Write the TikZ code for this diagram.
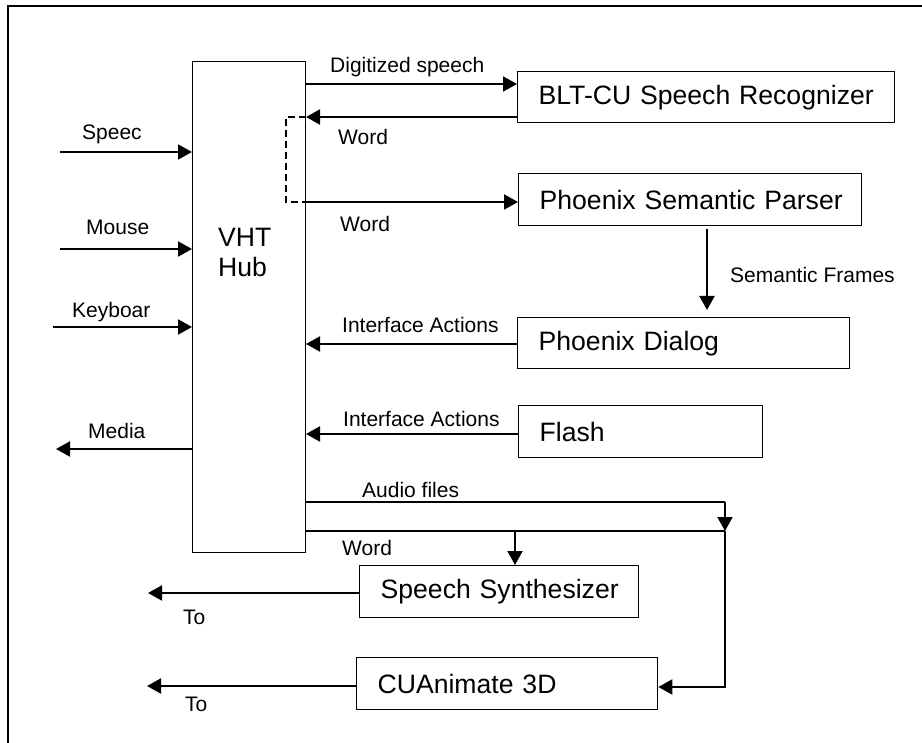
\documentclass[tikz,border=0pt]{standalone}
\usepackage{fontspec}
\setmainfont{Liberation Sans}
\usetikzlibrary{arrows.meta}
\begin{document}
\begin{tikzpicture}[x=1pt,y=-1pt,
  box/.style={draw,line width=1.3pt,rectangle,inner xsep=21pt,inner ysep=0pt,align=left,
    font=\fontsize{26.6}{30}\selectfont,anchor=north west},
  lbl/.style={font=\fontsize{21}{25}\selectfont,anchor=base west,inner sep=0pt},
  arr/.style={line width=2pt,-{Triangle[length=14pt,width=15pt]}},
  ln/.style={line width=1.3pt}]
\useasboundingbox (0,0) rectangle (922,743);
% frame
\draw[line width=2pt] (930,6) -- (8,6) -- (8,750);
% hub
\node[draw,line width=1pt,rectangle,anchor=north west,minimum width=113pt,minimum height=491pt,inner sep=0pt] (hub) at (192,61) {};
\node[font=\fontsize{26.6}{30}\selectfont,align=left,anchor=north west,inner sep=0pt] (hubtxt) at (218,228) {VHT\\Hub};
% boxes
\node[box,text width=335pt,minimum height=51pt] (blt) at (517,71) {\mbox{BLT-CU Speech Recognizer}};
\node[box,text width=301pt,minimum height=52pt] (parser) at (518,173) {\mbox{Phoenix Semantic Parser}};
\node[box,text width=290pt,minimum height=51pt] (dialog) at (517,317) {\mbox{Phoenix Dialog}};
\node[box,text width=202pt,minimum height=52pt] (flash) at (518,405) {\mbox{Flash}};
\node[box,text width=237pt,minimum height=52pt] (synth) at (359,565) {\mbox{Speech Synthesizer}};
\node[box,text width=259pt,minimum height=52pt] (anim) at (356,657) {\mbox{CUAnimate 3D}};
% free ends
\coordinate (sp) at (60,152);
\coordinate (ms) at (60,249);
\coordinate (kb) at (53,327);
\coordinate (md) at (56,449);
\coordinate (to1) at (148,593);
\coordinate (to2) at (147,686);
\coordinate (dash) at (286,117);
\coordinate (corner1) at (725,502);
\coordinate (corner2) at (725,531);
\coordinate (corner3) at (725,687);
\coordinate (branch) at (515,531);
% inputs / outputs of hub
\draw[arr] (sp) -- (sp -| hub.west);
\draw[arr] (ms) -- (ms -| hub.west);
\draw[arr] (kb) -- (kb -| hub.west);
\draw[arr] (md -| hub.west) -- (md);
% recognizer
\draw[arr] (hub.east |- 0,84) -- (blt.west |- 0,84);
\draw[arr] (blt.west |- 0,117) -- (hub.east |- 0,117);
\draw[line width=1.3pt,dash pattern=on 7pt off 4pt] (hub.east |- dash) -- (dash) -- (dash |- 0,202) -- (hub.east |- 0,202);
\draw[arr] (hub.east |- 0,202) -- (parser.west |- 0,202);
% parser -> dialog
\draw[arr,shorten <=3pt,shorten >=7pt] (parser.south -| 707,0) -- (dialog.north -| 707,0);
% dialog, flash -> hub
\draw[arr] (dialog.west |- 0,344) -- (hub.east |- 0,344);
\draw[arr] (flash.west |- 0,434) -- (hub.east |- 0,434);
% audio files and word
\draw[ln] (hub.east |- corner1) -- (corner1);
\draw[arr] (corner1) -- (corner2);
\draw[ln] (hub.east |- corner2) -- (corner2);
\draw[arr] (corner2) -- (corner3) -- (anim.east |- corner3);
\draw[arr] (branch) -- (synth.north -| branch);
% outputs
\draw[arr] (synth.west |- to1) -- (to1);
\draw[arr] (anim.west |- to2) -- (to2);
% labels
\node[lbl] (lspeec) at (82,140) {Speec};
\node[lbl] (lmouse) at (86,235) {Mouse};
\node[lbl] (lkey) at (72,318) {Keyboar};
\node[lbl] (lmedia) at (88,439) {Media};
\node[lbl] (ldig) at (330,73) {Digitized speech};
\node[lbl] (lword1) at (338,145) {Word};
\node[lbl] (lword2) at (340,232) {Word};
\node[lbl] (lsem) at (730,283) {Semantic Frames};
\node[lbl] (lia1) at (342,333) {Interface Actions};
\node[lbl] (lia2) at (343,427) {Interface Actions};
\node[lbl] (laudio) at (362,497) {Audio files};
\node[lbl] (lword3) at (342,555) {Word};
\node[lbl] (lto1) at (183,624) {To};
\node[lbl] (lto2) at (185,711) {To};
\end{tikzpicture}
\end{document}
